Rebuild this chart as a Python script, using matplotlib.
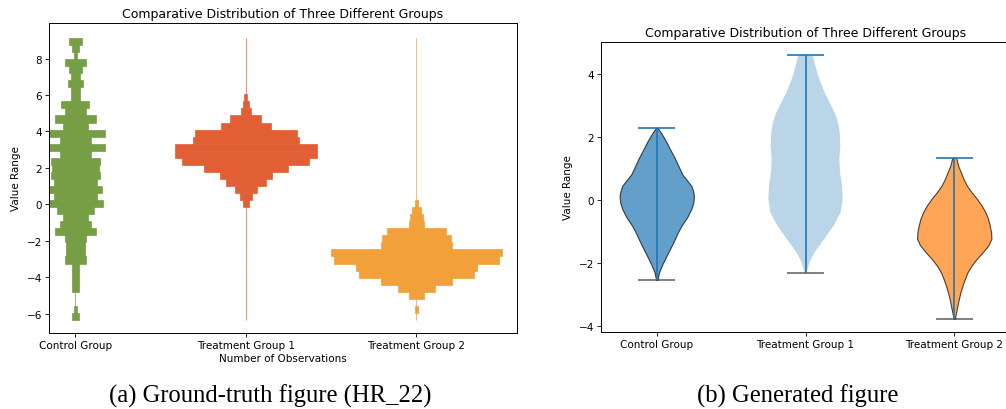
import numpy as np
import matplotlib.pyplot as plt

plt.rcParams['font.family'] = ['DejaVu Sans']
plt.rcParams['font.size'] = 7.5
plt.rcParams['axes.titlesize'] = 9
plt.rcParams['axes.linewidth'] = 0.7
plt.rcParams['xtick.major.size'] = 2.6
plt.rcParams['ytick.major.size'] = 2.6
plt.rcParams['xtick.major.width'] = 0.6
plt.rcParams['ytick.major.width'] = 0.6
plt.rcParams['xtick.major.pad'] = 2.6
plt.rcParams['ytick.major.pad'] = 2.6

groups = ['Control Group', 'Treatment Group 1', 'Treatment Group 2']

# panel (a): counts in 40 shared bins, lowest bin first
value_min, value_max = -6.35, 9.14
control_counts = [2, 1, 0, 0, 2, 2, 2, 2, 7, 6, 6, 7, 13, 10, 8, 12, 18, 14, 17, 14,
                  16, 15, 16, 10, 19, 10, 19, 8, 13, 7, 9, 3, 3, 5, 3, 4, 7, 1, 2, 4]
treat1_counts = [0, 0, 0, 0, 0, 0, 0, 0, 0, 0, 0, 0, 0, 0, 0, 0, 2, 4, 7, 13,
                 17, 27, 41, 46, 46, 34, 33, 16, 10, 3, 2, 1, 0, 0, 0, 0, 0, 0, 0, 0]
treat2_counts = [0, 1, 0, 5, 12, 23, 37, 39, 53, 55, 23, 22, 19, 5, 4, 3, 1, 0, 0, 0,
                 0, 0, 0, 0, 0, 0, 0, 0, 0, 0, 0, 0, 0, 0, 0, 0, 0, 0, 0, 0]
hist_colors = ['#769e44', '#e25f35', '#f1a03a']

# panel (b): violin outlines (value, relative half width)
ctrl_y = [2.27, 2.10, 1.85, 1.60, 1.30, 1.07, 0.80, 0.60, 0.44, 0.25, 0.10, -0.10,
          -0.30, -0.55, -0.82, -1.05, -1.24, -1.50, -1.77, -2.05, -2.30, -2.55]
ctrl_w = [3, 14, 28, 40, 55, 65, 77, 92, 104, 110, 112, 110,
          104, 92, 75, 63, 55, 43, 30, 17, 7, 2]
t1_y = [4.58, 4.40, 4.24, 4.00, 3.81, 3.60, 3.39, 3.18, 2.97, 2.76, 2.55, 2.34,
        2.13, 1.71, 1.29, 0.86, 0.44, 0.02, -0.40, -0.82, -1.24, -1.66, -1.98, -2.34]
t1_w = [22, 26, 30, 36, 42, 50, 58, 68, 78, 88, 95, 100,
        103, 105, 102, 104, 110, 112, 106, 85, 57, 28, 12, 3]
t2_y = [1.32, 1.07, 0.86, 0.65, 0.44, 0.23, 0.02, -0.19, -0.40, -0.61, -0.82, -1.03,
        -1.24, -1.45, -1.66, -1.87, -2.09, -2.30, -2.51, -2.72, -2.93, -3.14, -3.35,
        -3.56, -3.78]
t2_w = [6, 12, 20, 28, 38, 52, 68, 82, 93, 101, 106, 110,
        111, 102, 86, 68, 52, 40, 32, 25, 19, 14, 10, 6, 2]

W, H = 1006, 410
fig = plt.figure(figsize=(W / 100, H / 100), dpi=100)


def px_axes(l, t, r, b):
    return fig.add_axes([l / W, 1 - b / H, (r - l) / W, (b - t) / H])


# ---- (a) ground truth: horizontal histograms
ax1 = px_axes(49, 24, 517, 334)
edges = np.linspace(value_min, value_max, 41)
centers = (edges[:-1] + edges[1:]) / 2
bin_h = edges[1] - edges[0]
all_counts = [control_counts, treat1_counts, treat2_counts]
norm = max(max(c) for c in all_counts)
for i, (counts, col) in enumerate(zip(all_counts, hist_colors)):
    w = np.array(counts) / norm
    ax1.barh(centers, w, height=bin_h, left=i - w / 2, color=col,
             edgecolor=col, linewidth=0.5)
ax1.set_xticks([0, 1, 2], groups)
ax1.set_yticks(range(-6, 9, 2))
ax1.set_xlim(-0.155, 2.59)
ax1.set_ylim(-7.07, 9.96)
ax1.set_title('Comparative Distribution of Three Different Groups', pad=4)
ax1.set_xlabel('Number of Observations', labelpad=2)
ax1.set_ylabel('Value Range')

# ---- (b) generated: violins
ax2 = px_axes(601, 43, 1010, 333)
profiles = [(ctrl_y, ctrl_w), (t1_y, t1_w), (t2_y, t2_w)]
vpstats = []
for ys, ws in profiles:
    ys = np.array(ys)
    vpstats.append({'coords': ys, 'vals': np.array(ws, dtype=float),
                    'mean': ys.mean(), 'median': np.median(ys),
                    'min': ys.min(), 'max': ys.max(), 'quantiles': []})
parts = ax2.violin(vpstats, positions=[1, 2, 3], widths=0.5, showextrema=True)
body_colors = ['#1f77b4', '#1f77b4', '#ff7f0e']
for k, body in enumerate(parts['bodies']):
    body.set_facecolor(body_colors[k])
    if k == 1:
        body.set_edgecolor('none')
        body.set_alpha(0.3)
    else:
        body.set_edgecolor('black')
        body.set_linewidth(0.8)
        body.set_alpha(0.7)
parts['cbars'].set_color('#1f77b4')
parts['cbars'].set_linewidth(1.2)
parts['cmaxes'].set_color('#1f77b4')
parts['cmaxes'].set_linewidth(1.2)
parts['cmins'].set_color('#444444')
parts['cmins'].set_alpha(0.8)
parts['cmins'].set_linewidth(1.2)
ax2.set_xticks([1, 2, 3], groups)
ax2.set_yticks(range(-4, 5, 2))
ax2.set_xlim(0.625, 3.375)
ax2.set_ylim(-4.2, 5.0)
ax2.set_title('Comparative Distribution of Three Different Groups', pad=4)
ax2.set_ylabel('Value Range')

# captions
fig.text(270 / W, 1 - 396 / H, '(a) Ground-truth figure (HR_22)',
         family='Liberation Serif', fontsize=17.7, ha='center', va='center')
fig.text(798 / W, 1 - 396 / H, '(b) Generated figure',
         family='Liberation Serif', fontsize=17.7, ha='center', va='center')

fig.savefig('out.png', dpi=100)
